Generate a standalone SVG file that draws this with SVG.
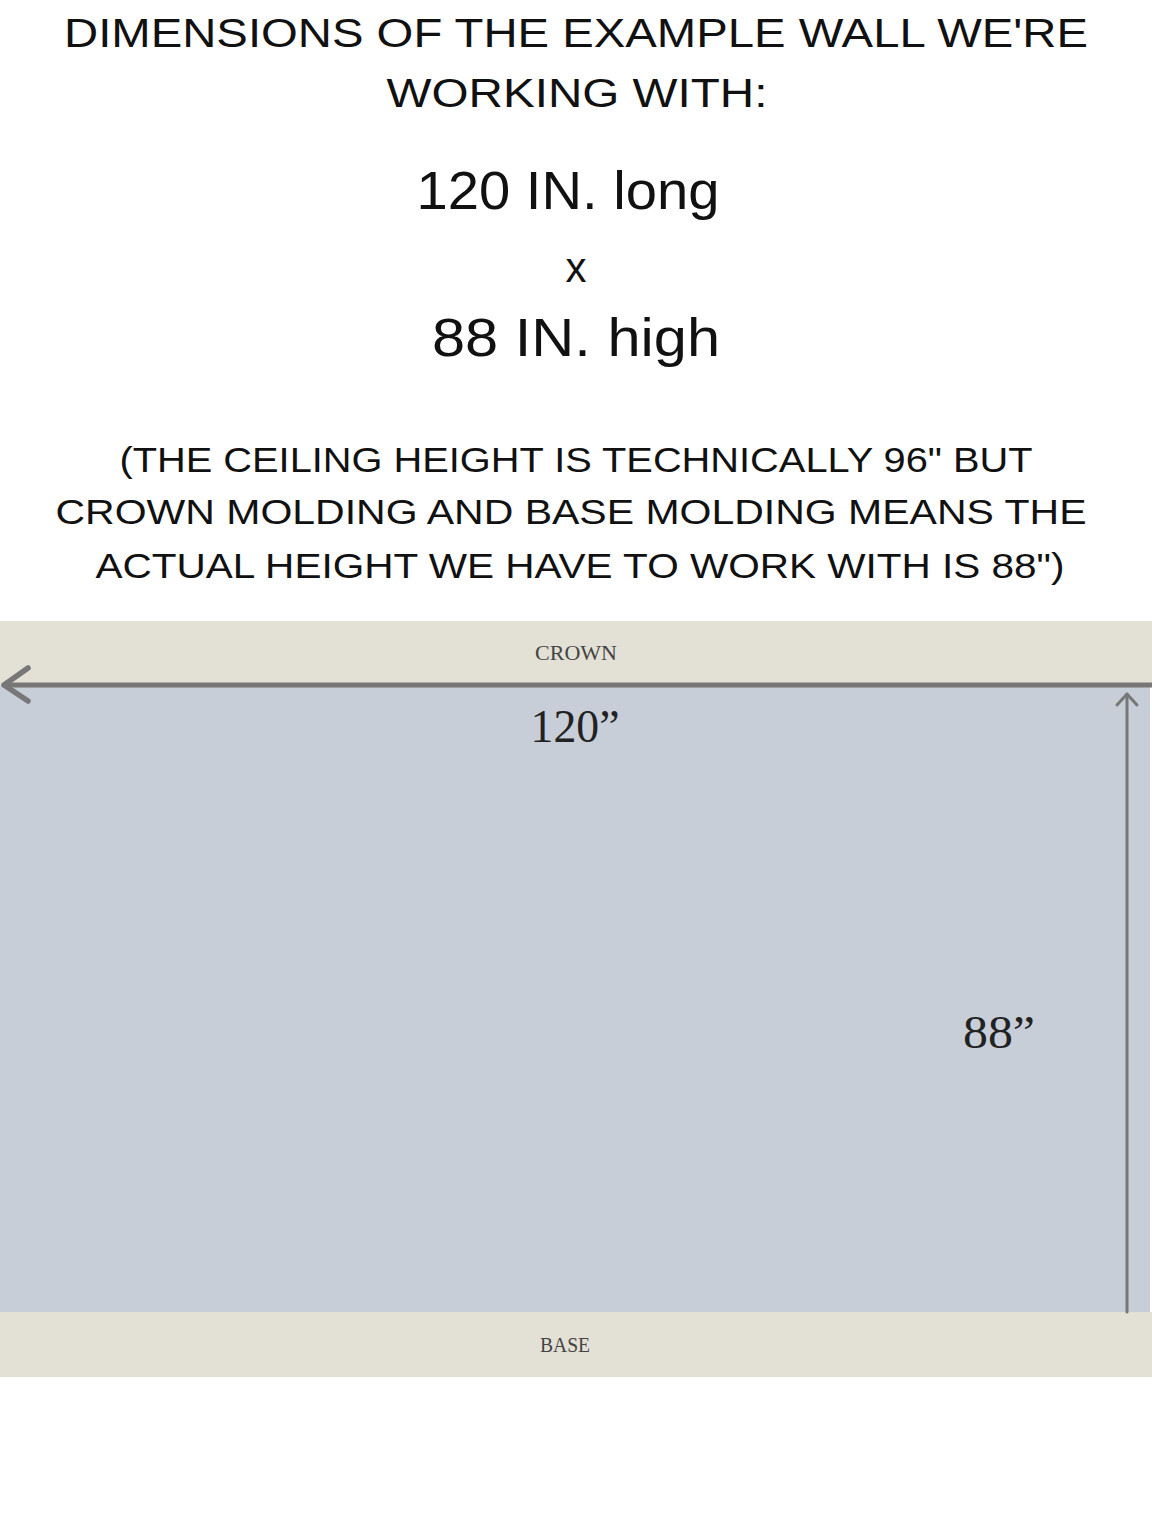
<svg xmlns="http://www.w3.org/2000/svg" width="1152" height="1536" viewBox="0 0 1152 1536">
  <style>
    .hd { font-family: "Liberation Sans", "DejaVu Sans", sans-serif; fill: #111; text-anchor: middle; }
    .sr { font-family: "Liberation Serif", "DejaVu Serif", serif; text-anchor: middle; }
    .dim { stroke: #777; fill: none; stroke-linecap: round; stroke-linejoin: round; }
  </style>
  <rect x="0" y="0" width="1152" height="1536" fill="#ffffff"/>

  <g id="title">
    <text class="hd" x="576" y="47" font-size="40" textLength="1024" lengthAdjust="spacingAndGlyphs">DIMENSIONS OF THE EXAMPLE WALL WE'RE</text>
    <text class="hd" x="577" y="107" font-size="40" textLength="381" lengthAdjust="spacingAndGlyphs">WORKING WITH:</text>
  </g>

  <g id="dimensions">
    <text class="hd" x="568" y="209" font-size="54" textLength="303" lengthAdjust="spacingAndGlyphs">120 IN. long</text>
    <text class="hd" x="576" y="282" font-size="42">x</text>
    <text class="hd" x="576" y="356" font-size="54" textLength="288" lengthAdjust="spacingAndGlyphs">88 IN. high</text>
  </g>

  <g id="note">
    <text class="hd" x="576" y="472" font-size="35" textLength="913" lengthAdjust="spacingAndGlyphs">(THE CEILING HEIGHT IS TECHNICALLY 96" BUT</text>
    <text class="hd" x="571" y="524" font-size="35" textLength="1031" lengthAdjust="spacingAndGlyphs">CROWN MOLDING AND BASE MOLDING MEANS THE</text>
    <text class="hd" x="580" y="578" font-size="35" textLength="969" lengthAdjust="spacingAndGlyphs">ACTUAL HEIGHT WE HAVE TO WORK WITH IS 88")</text>
  </g>

  <g id="wall">
    <rect x="0" y="686" width="1150" height="626" fill="#c7ced8"/>
  </g>

  <g id="crown">
    <rect x="0" y="621" width="1152" height="65" fill="#e3e0d5"/>
    <text class="sr" x="576" y="660" font-size="21" fill="#444" textLength="82" lengthAdjust="spacingAndGlyphs">CROWN</text>
  </g>

  <g id="base">
    <rect x="0" y="1312" width="1152" height="65" fill="#e3e0d5"/>
    <text class="sr" x="565" y="1352" font-size="21" fill="#444" textLength="50" lengthAdjust="spacingAndGlyphs">BASE</text>
  </g>

  <g id="connectors">
    <line class="dim" x1="4" y1="685" x2="1152" y2="685" stroke-width="5" stroke-linecap="butt"/>
    <polyline class="dim" points="28,668 4,685 28,701" stroke-width="5.5"/>
    <line class="dim" x1="1127" y1="694" x2="1127" y2="1312" stroke-width="3" stroke-linecap="butt"/>
    <polyline class="dim" points="1117,705 1127,694 1137,705" stroke-width="3"/>
  </g>

  <g id="labels">
    <text class="sr" x="575" y="742" font-size="47" fill="#222" textLength="89" lengthAdjust="spacingAndGlyphs">120”</text>
    <text class="sr" x="999" y="1048" font-size="46" fill="#222" textLength="72" lengthAdjust="spacingAndGlyphs">88”</text>
  </g>
</svg>
